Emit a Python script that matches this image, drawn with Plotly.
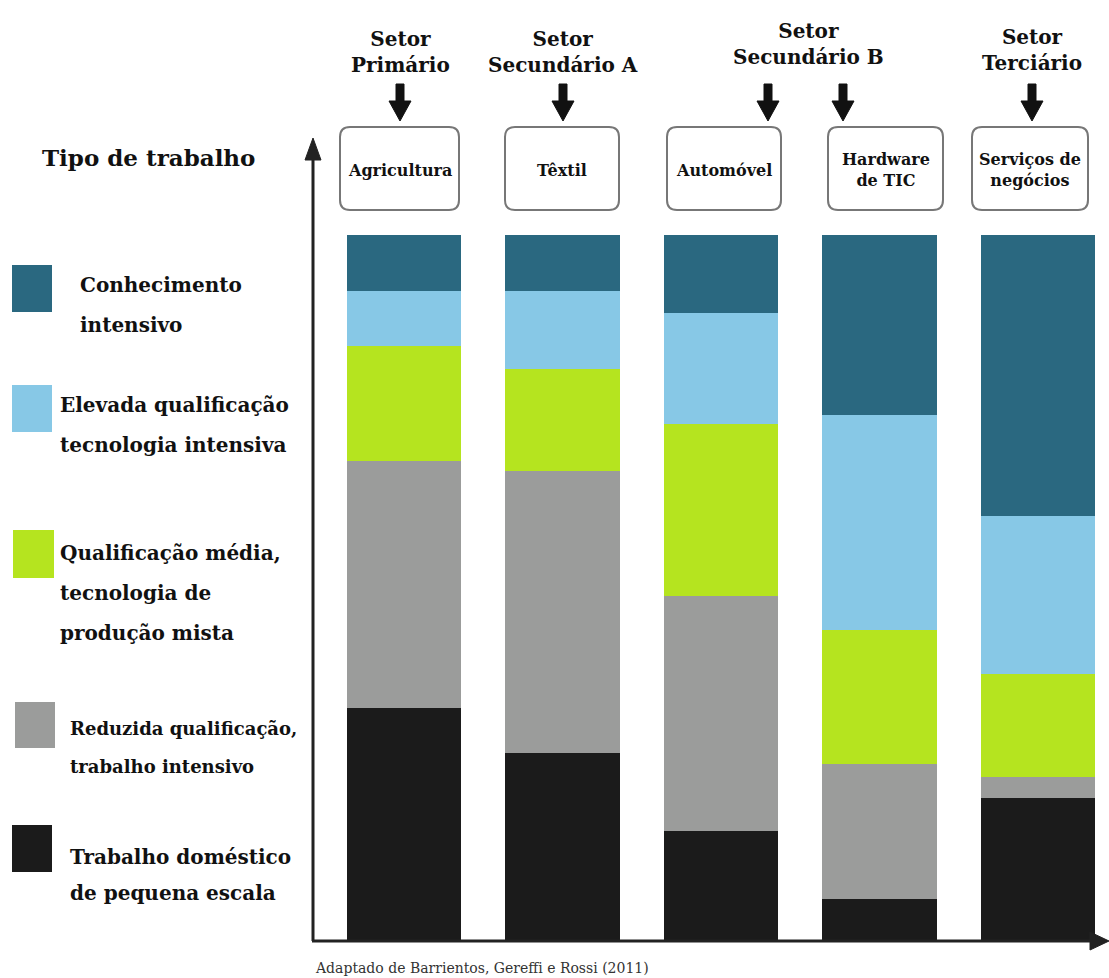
import plotly.graph_objects as go

categories = ["Agricultura", "Têxtil", "Automóvel", "Hardware de TIC", "Serviços de negócios"]
series_names = [
    "Trabalho doméstico de pequena escala",
    "Reduzida qualificação, trabalho intensivo",
    "Qualificação média, tecnologia de produção mista",
    "Elevada qualificação tecnologia intensiva",
    "Conhecimento intensivo",
]
trabalho_domestico = [32.9, 26.5, 15.5, 5.8, 20.1]
reduzida = [35.0, 40.0, 33.3, 19.1, 3.0]
media = [16.3, 14.5, 24.4, 19.1, 14.6]
elevada = [7.9, 11.1, 15.7, 30.4, 22.4]
conhecimento = [7.9, 7.9, 11.1, 25.6, 39.9]
values = [trabalho_domestico, reduzida, media, elevada, conhecimento]
colors = ["#1b1b1b", "#9b9c9b", "#b5e41f", "#87c8e6", "#2a6880"]

box_labels = ["Agricultura", "Têxtil", "Automóvel", "Hardware<br>de TIC", "Serviços de<br>negócios"]
sector_labels = ["Setor<br>Primário", "Setor<br>Secundário A", "Setor<br>Secundário B", "Setor<br>Terciário"]

W, H = 1109, 978
L, R, T, B = 313, 9, 130, 38
PW, PH = W - L - R, H - T - B

def px(x):
    return (x - L) / PW

def py(y):
    return (H - B - y) / PH

fig = go.Figure()
for name, vals, col in zip(series_names, values, colors):
    fig.add_trace(go.Bar(x=categories, y=vals, name=name, marker=dict(color=col, line=dict(width=0)),
                         width=0.72, showlegend=False, hoverinfo="x+y+name"))

SERIF = "DejaVu Serif"
shapes = []
ann = []

# axes with arrows
shapes.append(dict(type="line", xref="paper", yref="paper", x0=px(313), y0=py(941), x1=px(313), y1=py(150),
                   line=dict(color="#222", width=3)))
shapes.append(dict(type="path", xref="paper", yref="paper",
                   path=f"M {px(305)} {py(160)} L {px(313)} {py(138)} L {px(321)} {py(160)} Z",
                   fillcolor="#222", line=dict(color="#222", width=1)))
shapes.append(dict(type="line", xref="paper", yref="paper", x0=px(312), y0=py(941), x1=px(1098), y1=py(941),
                   line=dict(color="#222", width=3)))
shapes.append(dict(type="path", xref="paper", yref="paper",
                   path=f"M {px(1090)} {py(932)} L {px(1109)} {py(941)} L {px(1090)} {py(950)} Z",
                   fillcolor="#222", line=dict(color="#222", width=1)))

# rounded boxes
box_x = [(340, 459), (505, 619), (667, 781), (828, 943), (972, 1088)]
by0, by1, rr = 127, 210, 10
for (x0, x1), lab in zip(box_x, box_labels):
    p = (f"M {px(x0+rr)} {py(by0)} L {px(x1-rr)} {py(by0)} Q {px(x1)} {py(by0)} {px(x1)} {py(by0+rr)} "
         f"L {px(x1)} {py(by1-rr)} Q {px(x1)} {py(by1)} {px(x1-rr)} {py(by1)} "
         f"L {px(x0+rr)} {py(by1)} Q {px(x0)} {py(by1)} {px(x0)} {py(by1-rr)} "
         f"L {px(x0)} {py(by0+rr)} Q {px(x0)} {py(by0)} {px(x0+rr)} {py(by0)} Z")
    shapes.append(dict(type="path", xref="paper", yref="paper", path=p, fillcolor="white",
                       line=dict(color="#777", width=2)))
    ann.append(dict(xref="paper", yref="paper", x=px((x0 + x1) / 2), y=py(170), text=f"<b>{lab}</b>",
                    showarrow=False, font=dict(family=SERIF, size=16, color="#111"),
                    xanchor="center", yanchor="middle"))

# sector headers
sector_pos = [(400, 52), (563, 52), (808, 44), (1032, 50)]
for (cx, cy), lab in zip(sector_pos, sector_labels):
    ann.append(dict(xref="paper", yref="paper", x=px(cx), y=py(cy), text=f"<b>{lab}</b>", showarrow=False,
                    font=dict(family=SERIF, size=20, color="#111"), xanchor="center", yanchor="middle"))

# down arrows
for ax in [400, 563, 768, 843, 1032]:
    p = (f"M {px(ax-4)} {py(84)} L {px(ax+4)} {py(84)} L {px(ax+4)} {py(101)} L {px(ax+11)} {py(101)} "
         f"L {px(ax)} {py(121)} L {px(ax-11)} {py(101)} L {px(ax-4)} {py(101)} Z")
    shapes.append(dict(type="path", xref="paper", yref="paper", path=p, fillcolor="#111",
                       line=dict(color="#111", width=1)))

# legend title
ann.append(dict(xref="paper", yref="paper", x=px(40), y=py(157), text="<b>Tipo de trabalho</b>", showarrow=False,
                font=dict(family=SERIF, size=23, color="#111"), xanchor="left", yanchor="middle"))

# legend entries (top to bottom)
legend_items = [
    (colors[4], (12, 265, 52, 312), 78, [285, 325], ["Conhecimento", "intensivo"], 20),
    (colors[3], (12, 385, 52, 432), 58, [405, 445], ["Elevada qualificação", "tecnologia intensiva"], 20),
    (colors[2], (13, 530, 54, 578), 58, [553, 593, 633], ["Qualificação média,", "tecnologia de", "produção mista"], 20),
    (colors[1], (15, 702, 55, 748), 68, [728, 766], ["Reduzida qualificação,", "trabalho intensivo"], 18),
    (colors[0], (12, 825, 52, 872), 68, [857, 893], ["Trabalho doméstico", "de pequena escala"], 20),
]
for col, (x0, y0, x1, y1), tx, ys, lines, fs in legend_items:
    shapes.append(dict(type="rect", xref="paper", yref="paper", x0=px(x0), y0=py(y1), x1=px(x1), y1=py(y0),
                       fillcolor=col, line=dict(width=0)))
    for yy, t in zip(ys, lines):
        ann.append(dict(xref="paper", yref="paper", x=px(tx), y=py(yy), text=f"<b>{t}</b>", showarrow=False,
                        font=dict(family=SERIF, size=fs, color="#111"), xanchor="left", yanchor="middle"))

ann.append(dict(xref="paper", yref="paper", x=px(313), y=py(968), text="Adaptado de Barrientos, Gereffi e Rossi (2011)",
                showarrow=False, font=dict(family=SERIF, size=14, color="#333"), xanchor="left", yanchor="middle"))

fig.update_layout(
    barmode="stack",
    width=W, height=H,
    margin=dict(l=L, r=R, t=T, b=B),
    paper_bgcolor="white", plot_bgcolor="white",
    xaxis=dict(type="category", range=[-0.574, 4.391], showticklabels=False, showgrid=False,
               zeroline=False, showline=False, ticks=""),
    yaxis=dict(range=[0, 100 * PH / 705], showticklabels=False, showgrid=False, zeroline=False,
               showline=False, ticks=""),
    shapes=shapes,
    annotations=ann,
    bargap=0,
)
fig.write_html("out.html")
